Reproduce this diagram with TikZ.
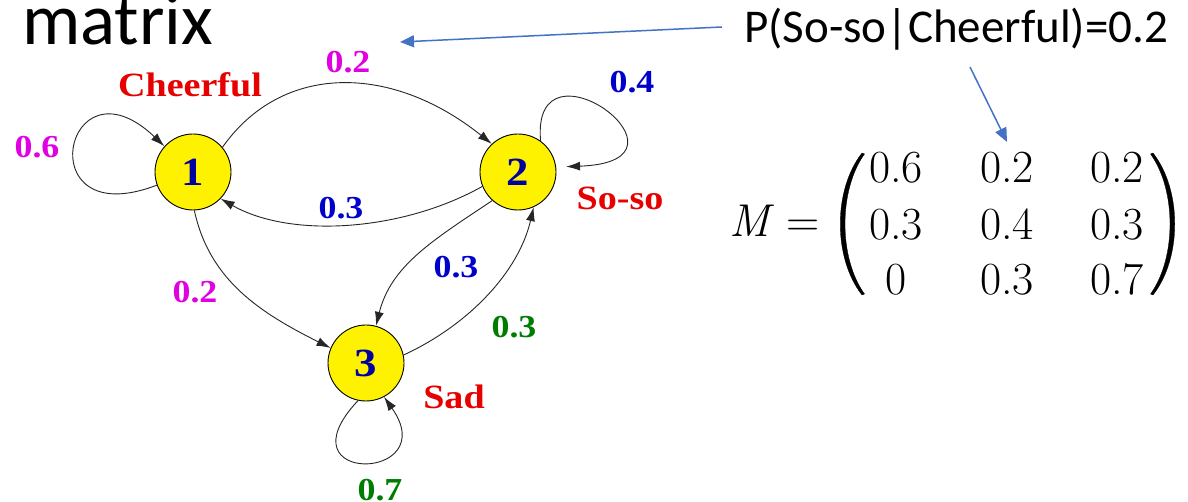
\documentclass[tikz,border=0pt]{standalone}
\usepackage{fontspec}
\setmainfont{Carlito}
\newfontfamily\tms[FakeStretch=1.12]{Liberation Serif}
\newfontfamily\lmr{Latin Modern Roman}
\usetikzlibrary{arrows.meta}
\definecolor{lblmag}{RGB}{225,0,225}
\definecolor{lblblue}{RGB}{0,0,205}
\definecolor{lblgreen}{RGB}{0,125,0}
\definecolor{lblred}{RGB}{230,0,0}
\definecolor{numblue}{RGB}{0,0,160}
\definecolor{offblue}{RGB}{68,114,196}
\begin{document}
\begin{tikzpicture}[x=1pt,y=1pt,
  state/.style={circle,draw=black,line width=0.9pt,fill=yellow,minimum size=76pt,inner sep=0pt,
     font=\tms\bfseries\fontsize{40}{40}\selectfont,text=numblue},
  edge/.style={draw=black!85,line width=0.9pt,-{Latex[length=14pt,width=9pt]}},
  lbl/.style={font=\tms\bfseries\fontsize{32}{32}\selectfont,inner sep=0pt},
  statename/.style={font=\tms\bfseries\fontsize{34}{34}\selectfont,text=lblred,inner sep=0pt},
  entry/.style={anchor=base,inner sep=0pt,font=\lmr\fontsize{46}{46}\selectfont},
  paren/.style={fill=black,draw=black,line width=0.3pt},
  callout/.style={draw=offblue,line width=1.5pt,-{Triangle[length=14pt,width=12pt]}}]
\useasboundingbox (0,0) rectangle (1188,502);
\fill[white] (0,0) rectangle (1188,502);

\node[anchor=base west,inner sep=0pt,font=\fontsize{73}{73}\selectfont] (title) at (22,457) {matrix};

\node[state] (n1) at (193,330) {1};
\node[state] (n2) at (518,330) {2};
\node[state] (n3) at (366,139) {3};

% self loops
\draw[edge] (n1.200) .. controls +(-130,-50) and +(-100,95) .. (n1.138);
\draw[edge] (n2.54) .. controls +(-10,112) and +(145,5) .. ([xshift=10pt]n2.8);
\draw[edge] (n3.258) .. controls +(-80,-85) and +(60,-85) .. (n3.298);

% transitions
\draw[edge] (n1.40) .. controls +(60,85) and +(-100,80) .. (n2.133);
\draw[edge] (n2.202) .. controls +(-80,-45) and +(70,-40) .. (n1.316);
\draw[edge] (n1.272) .. controls +(15,-70) and +(-70,35) .. (n3.157);
\draw[edge] (n2.228) .. controls +(-60,-40) and +(15,60) .. (n3.75);
\draw[edge] (n3.12) .. controls +(65,30) and +(-15,-65) .. (n2.294);

% labels
\node[statename] (lc) at (190,417) {Cheerful};
\node[statename] (ls) at (620,304) {So-so};
\node[statename] (ld) at (454,105) {Sad};
\node[lbl,text=lblmag] (e11) at (37,355) {0.6};
\node[lbl,text=lblmag] (e12) at (348,440) {0.2};
\node[lbl,text=lblmag] (e13) at (195,210) {0.2};
\node[lbl,text=lblblue] (e21) at (341,294) {0.3};
\node[lbl,text=lblblue] (e22) at (632,420) {0.4};
\node[lbl,text=lblblue] (e23) at (456,235) {0.3};
\node[lbl,text=lblgreen] (e32) at (514,175) {0.3};
\node[lbl,text=lblgreen] (e33) at (380,12) {0.7};

% probability text
\node[anchor=base west,inner sep=0pt,font=\fontsize{47}{47}\selectfont] (P) at (744,459) {P(So-so|Cheerful)=0.2};

% matrix
\node[entry] (mM) at (750,265) {\itshape M};
\node[entry] (meq) at (803,265) {=};
\node[entry] (m11) at (896,319) {0.6};
\node[entry] (m12) at (1007,319) {0.2};
\node[entry] (m13) at (1117,319) {0.2};
\node[entry] (m21) at (896,262) {0.3};
\node[entry] (m22) at (1007,262) {0.4};
\node[entry] (m23) at (1117,262) {0.3};
\node[entry] (m31) at (896,207) {0};
\node[entry] (m32) at (1007,207) {0.3};
\node[entry] (m33) at (1117,207) {0.7};
\path[paren] (862,349) .. controls (833,312) and (833,244) .. (862,207)
  -- (864.5,208) .. controls (838.5,244) and (838.5,312) .. (864.5,348) -- cycle;
\path[paren] (1153,349) .. controls (1182,312) and (1182,244) .. (1153,207)
  -- (1150.5,208) .. controls (1176.5,244) and (1176.5,312) .. (1150.5,348) -- cycle;

% callout arrows
\coordinate (a1s) at (722,475);
\coordinate (a1e) at (400,460);
\coordinate (a2s) at (970,435);
\coordinate (a2e) at (1007,360);
\draw[callout] (a1s) -- (a1e);
\draw[callout] (a2s) -- (a2e);
\end{tikzpicture}
\end{document}
